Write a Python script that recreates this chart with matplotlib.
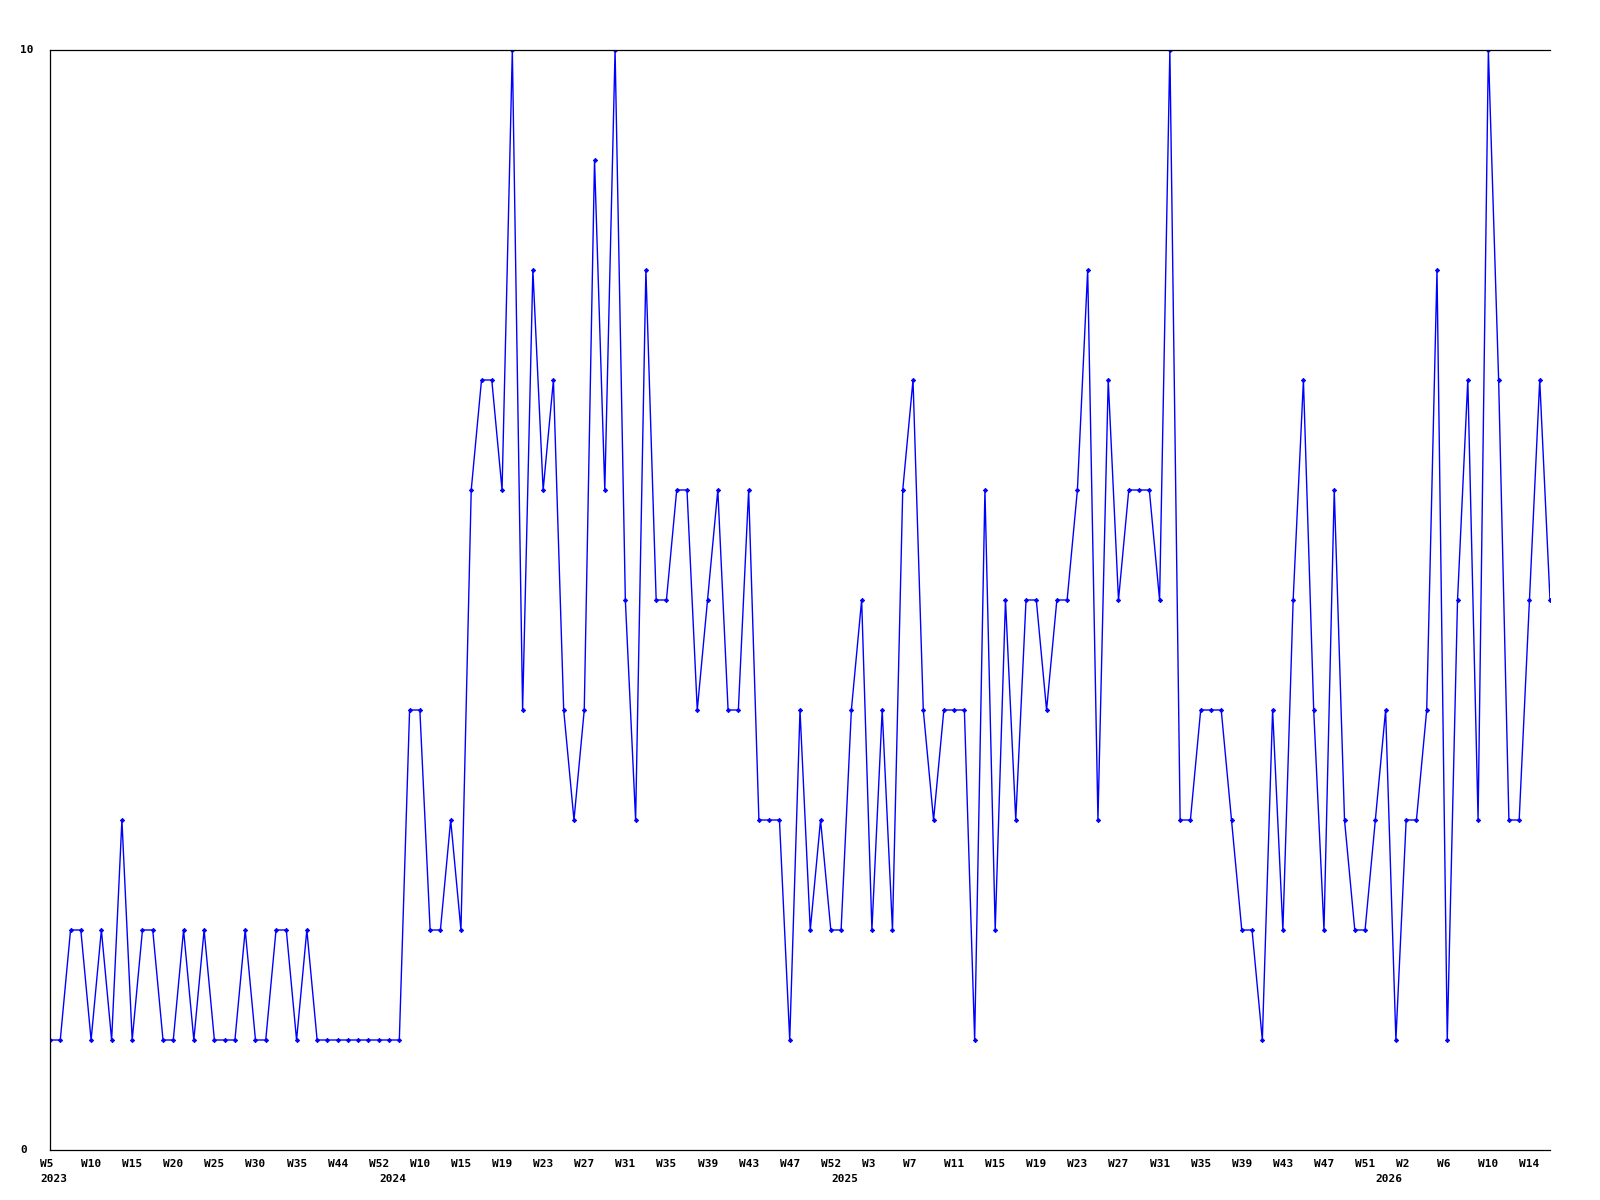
import matplotlib
matplotlib.use("Agg")
import numpy as np
from matplotlib import pyplot as plt
from matplotlib.transforms import ScaledTranslation, offset_copy

# Weekly values, one point per sample
values = [
    1, 1, 2, 2, 1, 2, 1, 3, 1, 2, 2, 1, 1, 2, 1, 2, 1, 1, 1,
    2, 1, 1, 2, 2, 1, 2, 1, 1, 1, 1, 1, 1, 1, 1, 1,
    4, 4, 2, 2, 3, 2, 6, 7, 7, 6, 10, 4, 8, 6, 7, 4, 3, 4, 9, 6, 10, 5, 3,
    8, 5, 5, 6, 6, 4, 5, 6, 4, 4, 6, 3, 3, 3, 1, 4, 2, 3, 2,
    2, 4, 5, 2, 4, 2, 6, 7, 4, 3, 4, 4, 4, 1, 6, 2, 5, 3, 5, 5,
    4, 5, 5, 6, 8, 3, 7, 5, 6, 6, 6, 5, 10, 3, 3, 4, 4, 4, 3,
    2, 2, 1, 4, 2, 5, 7, 4, 2, 6, 3, 2, 2, 3, 4, 1, 3, 3, 4, 8,
    1, 5, 7, 3, 10, 7, 3, 3, 5, 7, 5,
]

# Week labels, every 4th point
week_labels = [
    "W5", "W10", "W15", "W20", "W25", "W30", "W35", "W44", "W52",
    "W10", "W15", "W19", "W23", "W27", "W31", "W35", "W39", "W43", "W47", "W52",
    "W3", "W7", "W11", "W15", "W19", "W23", "W27", "W31", "W35", "W39", "W43",
    "W47", "W51",
    "W2", "W6", "W10", "W14",
]
label_step = 4

# Year labels and index of the first point of each year
years = ["2023", "2024", "2025", "2026"]
year_start = [0, 33, 77, 130]

x = np.arange(len(values))

fig = plt.figure(figsize=(16, 12), dpi=100)
ax = fig.add_axes([50 / 1600, 50 / 1200, 1500 / 1600, 1100 / 1200])

ax.plot(x, values, color="#0000ff", lw=1.0, marker="D", markersize=2.2,
        markeredgewidth=0.6)

ax.set_xlim(0, len(values) - 1)
ax.set_ylim(0, 10)

for side in ["right"]:
    ax.spines[side].set_visible(False)
for side in ["left", "bottom", "top"]:
    ax.spines[side].set_linewidth(0.9)
    ax.spines[side].set_color("black")

font = dict(family="DejaVu Sans Mono", weight="bold", size=8)

# x ticks: week labels, left aligned just before the point
ticks = x[::label_step][:len(week_labels)]
ax.set_xticks(ticks)
ax.set_xticklabels(week_labels, **font)
ax.tick_params(axis="x", length=0, pad=6.2)
shift = ScaledTranslation(-10 / 100, 0, fig.dpi_scale_trans)
for lab in ax.get_xticklabels():
    lab.set_horizontalalignment("left")
    lab.set_transform(lab.get_transform() + shift)

# year labels under the week labels
year_tr = offset_copy(ax.get_xaxis_transform(), fig=fig, x=-10, y=-32, units="dots")
for yr, i in zip(years, year_start):
    ax.text(x[i], 0, yr, transform=year_tr, ha="left", va="baseline", **font)

# y ticks: only 0 and 10, left aligned at the figure edge
ax.set_yticks([])
ytr = offset_copy(ax.get_yaxis_transform(), fig=fig, x=-30, y=0, units="dots")
for v in [0, 10]:
    ax.text(0, v, str(v), transform=ytr, ha="left", va="center", **font)

fig.savefig("out.png", dpi=100)
